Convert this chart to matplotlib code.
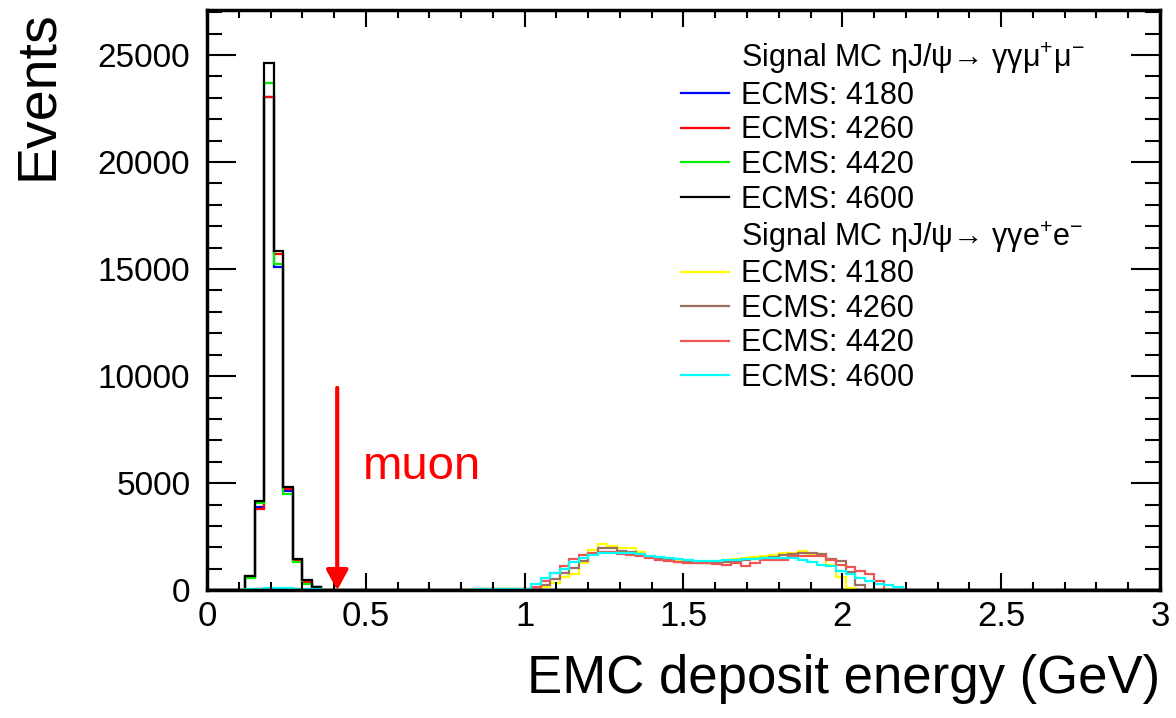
import numpy as np
import matplotlib
matplotlib.use("Agg")
import matplotlib.pyplot as plt
from matplotlib.lines import Line2D

plt.rcParams['font.family'] = ['Liberation Sans', 'DejaVu Sans']
plt.rcParams['mathtext.fontset'] = 'custom'
plt.rcParams['mathtext.rm'] = 'Liberation Sans'
plt.rcParams['mathtext.it'] = 'Liberation Sans'

# histogram binning (GeV)
bin_width = 0.03
mumu_start = 0.12
ee_low_start = 0.12
ee_start = 0.84

# J/psi -> mu+ mu- signal MC, bins from 0.12 GeV
mumu_4180 = [620, 3890, 23030, 15120, 4650, 1420, 420, 150]
mumu_4260 = [640, 3800, 23060, 15700, 4710, 1400, 400, 150]
mumu_4420 = [590, 4090, 23670, 15250, 4480, 1310, 300, 135]
mumu_4600 = [670, 4180, 24630, 15840, 4830, 1480, 470, 170]

# J/psi -> e+ e- signal MC, small tail from 0.12 GeV
ee_low_4180 = [20, 40, 60, 60, 50, 40, 30, 20]
ee_low_4260 = [20, 40, 60, 60, 50, 40, 30, 20]
ee_low_4420 = [30, 50, 70, 70, 60, 50, 40, 30]
ee_low_4600 = [40, 70, 90, 90, 80, 60, 50, 40]

# J/psi -> e+ e- signal MC, bins from 0.84 GeV
ee_4180 = [40, 40, 45, 45, 50, 50, 60, 150, 320, 600, 750, 1250, 1900, 2150,
           2050, 1970, 1970, 1800, 1600, 1500, 1420, 1380, 1340, 1320, 1340,
           1370, 1400, 1440, 1500, 1550, 1600, 1650, 1720, 1760, 1850, 1700,
           1680, 1200, 600, 110, 0, 0, 0, 0, 0, 0]
ee_4260 = [40, 40, 45, 45, 50, 55, 100, 250, 500, 800, 1050, 1350, 1700, 1950,
           1950, 1850, 1800, 1700, 1560, 1470, 1400, 1340, 1300, 1280, 1280,
           1260, 1300, 1350, 1420, 1480, 1520, 1560, 1640, 1700, 1720, 1720,
           1700, 1450, 1350, 850, 250, 0, 0, 0, 0, 0]
ee_4420 = [40, 45, 50, 50, 55, 60, 150, 450, 800, 1150, 1450, 1650, 1750, 1800,
           1780, 1700, 1650, 1580, 1500, 1420, 1380, 1320, 1280, 1260, 1260,
           1230, 1200, 1260, 1150, 1260, 1400, 1400, 1400, 1620, 1620, 1620,
           1620, 1400, 1200, 1080, 920, 760, 450, 0, 0, 0]
ee_4600 = [60, 60, 60, 60, 60, 60, 300, 550, 780, 1000, 1300, 1520, 1650, 1720,
           1740, 1740, 1720, 1680, 1620, 1560, 1500, 1450, 1400, 1380, 1380,
           1380, 1400, 1420, 1440, 1470, 1490, 1500, 1510, 1500, 1400, 1310,
           1200, 1125, 900, 770, 580, 450, 300, 220, 140, 0]

muon_cut = 0.41
arrow_top = 9450

nbins = 100
edges = np.linspace(0, nbins * bin_width, nbins + 1)


def fill(parts):
    h = np.zeros(nbins)
    for start, vals in parts:
        i0 = int(round(start / bin_width))
        h[i0:i0 + len(vals)] = vals
    return h


fig = plt.figure(figsize=(11.76, 7.18), dpi=100)
ax = fig.add_axes([0.176, 0.178, 0.8104, 0.808])

mumu = [(mumu_4180, 'blue'), (mumu_4260, 'red'), (mumu_4420, '#00ee00'), (mumu_4600, 'black')]
ee = [(ee_low_4180, ee_4180, '#ffff00'), (ee_low_4260, ee_4260, '#9c7060'),
      (ee_low_4420, ee_4420, '#f05555'), (ee_low_4600, ee_4600, '#00ffff')]

for vals, c in mumu:
    ax.stairs(fill([(mumu_start, vals)]), edges, color=c, lw=1.6)
for low, vals, c in ee:
    ax.stairs(fill([(ee_low_start, low), (ee_start, vals)]), edges, color=c, lw=1.6)

ax.annotate('', xy=(muon_cut, 0), xytext=(muon_cut, arrow_top),
            arrowprops=dict(arrowstyle='-|>,head_length=0.55,head_width=0.3',
                            color='red', lw=3, mutation_scale=22, shrinkA=0, shrinkB=0))
ax.text(0.49, 5200, 'muon', color='red', fontsize=34)

ax.set_xlim(0, 3)
ax.set_ylim(0, 27100)
ax.set_xticks([0, 0.5, 1, 1.5, 2, 2.5, 3])
ax.set_xticklabels(['0', '0.5', '1', '1.5', '2', '2.5', '3'])
ax.set_xticks(np.arange(0, 3.01, 0.1), minor=True)
ax.set_yticks([0, 5000, 10000, 15000, 20000, 25000])
ax.set_yticks(np.arange(0, 27001, 1000), minor=True)
ax.tick_params(which='both', direction='in', top=True, right=True, width=1.5, colors='black')
ax.tick_params(axis='x', which='major', length=12, labelsize=25, pad=7)
ax.tick_params(axis='x', which='minor', length=5.5)
ax.tick_params(axis='y', which='major', length=21, labelsize=24, pad=12)
ax.tick_params(axis='y', which='minor', length=10.5)
for s in ax.spines.values():
    s.set_linewidth(2.5)

ax.set_xlabel('EMC deposit energy (GeV)', fontsize=38, loc='right', labelpad=15)
ax.set_ylabel('Events', fontsize=40, loc='top', labelpad=24)

blank = Line2D([], [], color='none')
handles = [blank] + [Line2D([], [], color=c, lw=1.6) for _, c in mumu] + \
          [blank] + [Line2D([], [], color=c, lw=1.6) for _, _, c in ee]
labels = ['Signal MC ηJ/ψ→ γγμ$^{+}$μ$^{-}$', 'ECMS: 4180', 'ECMS: 4260', 'ECMS: 4420', 'ECMS: 4600',
          'Signal MC ηJ/ψ→ γγe$^{+}$e$^{-}$', 'ECMS: 4180', 'ECMS: 4260', 'ECMS: 4420', 'ECMS: 4600']
ax.legend(handles, labels, loc='upper left', bbox_to_anchor=(0.497, 0.947), frameon=False,
          fontsize=22, handlelength=1.57, handletextpad=0.39, labelspacing=0.15, borderpad=0,
          borderaxespad=0)

fig.savefig('out.png', dpi=100)
